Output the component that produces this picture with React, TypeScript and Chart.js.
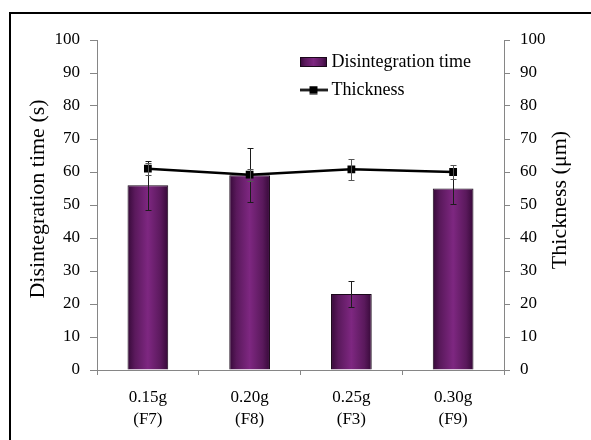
import React, { useEffect, useRef } from "react";
import { Chart, registerables } from "chart.js";

Chart.register(...registerables);

// ---- data ----
const categories: string[][] = [
  ["0.15g", "(F7)"],
  ["0.20g", "(F8)"],
  ["0.25g", "(F3)"],
  ["0.30g", "(F9)"],
];
const disintegrationTime = [56, 59, 23, 55];
const disintegrationErr = [7.4, 8.2, 4, 4.8];
const thickness = [61, 59.2, 60.8, 60];
const thicknessErr = [1.8, 1.8, 3.2, 2.1];
const yMin = 0;
const yMax = 100;
const yStep = 10;
const leftTitle = "Disintegration time (s)";
const rightTitle = "Thickness (μm)";
const legendLabels = ["Disintegration time", "Thickness"];

const FONT = "'Liberation Serif', 'Times New Roman', serif";
const AXIS_GRAY = "#868686";
const BAR_PCT = 0.4;

function barGradient(ctx: CanvasRenderingContext2D, x0: number, x1: number) {
  const g = ctx.createLinearGradient(x0, 0, x1, 0);
  g.addColorStop(0, "#360938");
  g.addColorStop(0.18, "#5a195c");
  g.addColorStop(0.5, "#7e2781");
  g.addColorStop(0.82, "#5a195c");
  g.addColorStop(1, "#360938");
  return g;
}

const errorBarPlugin = {
  id: "errorBars",
  afterDatasetDraw(chart: any, args: any) {
    const ds = chart.data.datasets[args.index];
    const errs: number[] | undefined = ds.errors;
    if (!errs) return;
    const meta = args.meta;
    const yScale = chart.scales[meta.yAxisID];
    const ctx = chart.ctx as CanvasRenderingContext2D;
    ctx.save();
    ctx.strokeStyle = ds.errorColor || "#222";
    ctx.lineWidth = 1;
    meta.data.forEach((el: any, i: number) => {
      const v = ds.data[i];
      const e = errs[i];
      const x = Math.round(el.x) + 0.5;
      const yTop = Math.round(yScale.getPixelForValue(v + e)) + 0.5;
      const yBot = Math.round(yScale.getPixelForValue(v - e)) + 0.5;
      ctx.beginPath();
      ctx.moveTo(x, yTop);
      ctx.lineTo(x, yBot);
      ctx.moveTo(x - 3, yTop);
      ctx.lineTo(x + 3, yTop);
      ctx.moveTo(x - 3, yBot);
      ctx.lineTo(x + 3, yBot);
      ctx.stroke();
    });
    ctx.restore();
  },
};

const LEGEND_PAD = 10;
const legendPlacePlugin = {
  id: "legendPlace",
  afterLayout(chart: any) {
    const L = chart.legend;
    if (!L) return;
    const left = 304.5 - LEGEND_PAD;
    const top = 53 - LEGEND_PAD;
    L.left = left;
    L.right = left + L.width;
    L.top = top;
    L.bottom = top + L.height;
  },
};

const axisTitlesPlugin = {
  id: "axisTitles",
  afterDraw(chart: any) {
    const ctx = chart.ctx as CanvasRenderingContext2D;
    const draw = (text: string, x: number, y: number) => {
      ctx.save();
      ctx.translate(x, y);
      ctx.rotate(-Math.PI / 2);
      ctx.font = `22px ${FONT}`;
      ctx.fillStyle = "#000";
      ctx.textAlign = "center";
      ctx.textBaseline = "middle";
      ctx.fillText(text, 0, 0);
      ctx.restore();
    };
    draw(leftTitle, 38, 199);
    draw(rightTitle, 560, 200);
  },
};

export default function App() {
  const ref = useRef<HTMLCanvasElement>(null);

  useEffect(() => {
    if (!ref.current) return;

    // legend icons
    const barIcon = document.createElement("canvas");
    barIcon.width = 27;
    barIcon.height = 10;
    {
      const c = barIcon.getContext("2d")!;
      c.fillStyle = barGradient(c, 0, 27);
      c.fillRect(0, 0, 27, 10);
      c.strokeStyle = "#1a081a";
      c.lineWidth = 1;
      c.strokeRect(0.5, 0.5, 26, 9);
    }
    const lineIcon = document.createElement("canvas");
    lineIcon.width = 28;
    lineIcon.height = 9;
    {
      const c = lineIcon.getContext("2d")!;
      c.fillStyle = "#000";
      c.fillRect(0, 3.25, 28, 2.5);
      c.fillRect(10, 0.5, 8, 8);
    }

    const chart = new Chart(ref.current, {
      type: "bar",
      data: {
        labels: categories,
        datasets: [
          {
            type: "bar",
            label: legendLabels[0],
            data: disintegrationTime,
            yAxisID: "y",
            order: 1,
            barPercentage: BAR_PCT,
            categoryPercentage: 1,
            borderColor: "#1a081a",
            borderWidth: 1,
            backgroundColor: (c: any) => {
              const ch = c.chart;
              const area = ch.chartArea;
              if (!area || !ch.scales.x) return "#7e2781";
              const xc = ch.scales.x.getPixelForValue(c.dataIndex);
              const w = ((area.right - area.left) / categories.length) * BAR_PCT;
              return barGradient(ch.ctx, xc - w / 2, xc + w / 2);
            },
            errors: disintegrationErr,
            errorColor: "#1c1c1c",
          } as any,
          {
            type: "line",
            label: legendLabels[1],
            data: thickness,
            yAxisID: "y1",
            order: 0,
            borderColor: "#000",
            borderWidth: 2.5,
            tension: 0,
            pointStyle: "rect",
            pointRadius: 5.5,
            pointBackgroundColor: "#000",
            pointBorderWidth: 0,
            errors: thicknessErr,
            errorColor: "#555",
          } as any,
        ],
      },
      options: {
        animation: false,
        responsive: false,
        maintainAspectRatio: false,
        layout: { padding: { left: 0, right: 0, top: 40, bottom: 0 } },
        plugins: {
          tooltip: { enabled: false },
          legend: {
            display: true,
            position: "chartArea" as any,
            align: "start",
            labels: {
              usePointStyle: true,
              pointStyleWidth: 18,
              padding: LEGEND_PAD,
              color: "#000",
              font: { family: FONT, size: 18 },
              generateLabels: () => [
                {
                  text: legendLabels[0],
                  pointStyle: barIcon as any,
                  fillStyle: "rgba(0,0,0,0)",
                  strokeStyle: "rgba(0,0,0,0)",
                  lineWidth: 0,
                  hidden: false,
                  datasetIndex: 0,
                  fontColor: "#000",
                },
                {
                  text: legendLabels[1],
                  pointStyle: lineIcon as any,
                  fillStyle: "rgba(0,0,0,0)",
                  strokeStyle: "rgba(0,0,0,0)",
                  lineWidth: 0,
                  hidden: false,
                  datasetIndex: 1,
                  fontColor: "#000",
                },
              ],
            },
          },
        },
        scales: {
          x: {
            type: "category",
            offset: true,
            afterFit: (s: any) => {
              s.height = 70;
            },
            grid: {
              offset: true,
              drawOnChartArea: false,
              drawTicks: true,
              tickLength: 5,
              color: AXIS_GRAY,
            },
            border: { color: AXIS_GRAY, width: 1 },
            ticks: {
              color: "#000",
              padding: 11,
              maxRotation: 0,
              autoSkip: false,
              font: { family: FONT, size: 17, lineHeight: 1.3 },
            },
          },
          y: {
            type: "linear",
            position: "left",
            min: yMin,
            max: yMax,
            afterFit: (s: any) => {
              s.width = 97;
            },
            grid: {
              drawOnChartArea: false,
              drawTicks: true,
              tickLength: 7,
              color: AXIS_GRAY,
            },
            border: { color: AXIS_GRAY, width: 1 },
            ticks: {
              stepSize: yStep,
              color: "#000",
              padding: 10,
              font: { family: FONT, size: 17 },
            },
          },
          y1: {
            type: "linear",
            position: "right",
            min: yMin,
            max: yMax,
            afterFit: (s: any) => {
              s.width = 87;
            },
            grid: {
              drawOnChartArea: false,
              drawTicks: true,
              tickLength: 6,
              color: AXIS_GRAY,
            },
            border: { color: AXIS_GRAY, width: 1 },
            ticks: {
              stepSize: yStep,
              color: "#000",
              padding: 10,
              font: { family: FONT, size: 17 },
            },
          },
        },
      },
      plugins: [errorBarPlugin, legendPlacePlugin, axisTitlesPlugin],
    });

    return () => chart.destroy();
  }, []);

  return (
    <div
      style={{
        position: "fixed",
        left: 0,
        top: 0,
        width: 591,
        height: 440,
        overflow: "hidden",
        background: "#fff",
      }}
    >
      <canvas
        ref={ref}
        width={591}
        height={440}
        style={{ position: "absolute", left: 0, top: 0, width: 591, height: 440 }}
      />
      <div
        style={{
          position: "absolute",
          left: 9,
          top: 12,
          width: 640,
          height: 480,
          border: "2px solid #000",
          boxSizing: "border-box",
          pointerEvents: "none",
        }}
      />
    </div>
  );
}
